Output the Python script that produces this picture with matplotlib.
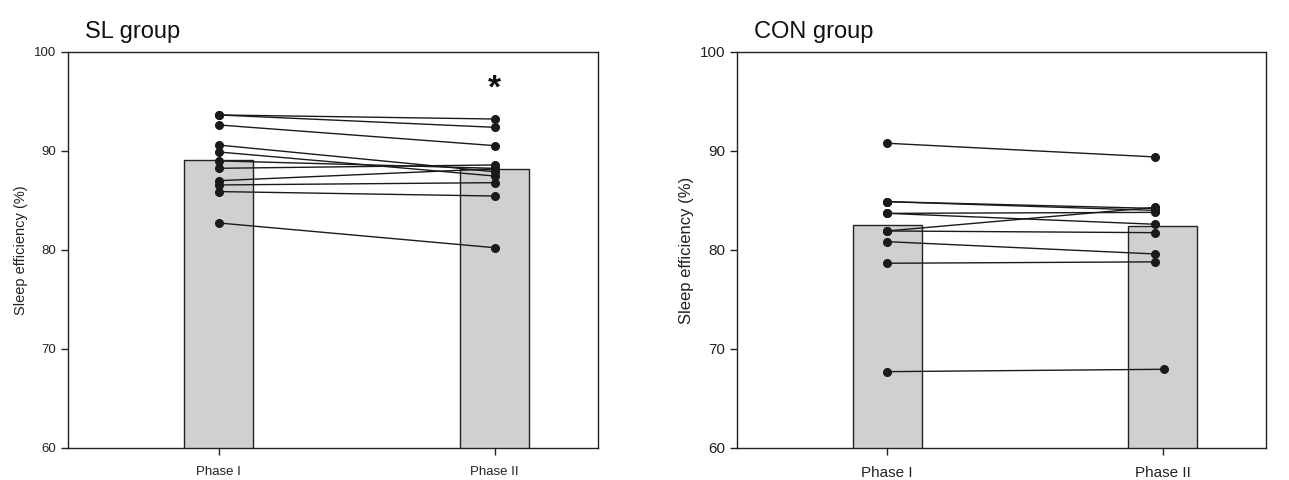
import matplotlib
matplotlib.use("Agg")
import matplotlib.pyplot as plt
import numpy as np

plt.rcParams['font.family'] = ['Liberation Sans', 'DejaVu Sans']

phases = ["Phase I", "Phase II"]

# SL group
sl_phase1 = [93.64, 93.64, 92.63, 90.6, 89.9, 89.0, 88.25, 87.0, 86.57, 85.9, 82.73]
sl_phase2 = [93.23, 92.39, 90.54, 87.9, 87.47, 88.25, 88.59, 88.2, 86.8, 85.45, 80.23]
sl_bars = [89.1, 88.2]

# CON group
con_phase1 = [90.78, 84.88, 84.88, 83.7, 83.7, 81.92, 81.92, 80.84, 78.66, 67.71]
con_phase2 = [89.4, 84.2, 84.0, 83.8, 82.6, 84.3, 81.75, 79.6, 78.8, 67.95]
con_bars = [82.5, 82.4]
con_phase2_xshift = [-0.03] * 9 + [0.005]

yticks = [60, 70, 80, 90, 100]

fig = plt.figure(figsize=(12.89, 4.8), dpi=100)
ax1 = fig.add_axes([0.0528, 0.0667, 0.4112, 0.825])
ax2 = fig.add_axes([0.5718, 0.0667, 0.4104, 0.825])

bar_color = "#d0d0d0"
xpos = np.array([1, 2])


def draw(ax, p1, p2, bars, title, fs_tick, fs_lab, shift2=None):
    ax.bar(xpos, bars, width=0.25, bottom=0, color=bar_color,
           edgecolor="#222222", linewidth=1.0, zorder=1)
    if shift2 is None:
        shift2 = [0] * len(p2)
    for a, b, s in zip(p1, p2, shift2):
        ax.plot([1, 2 + s], [a, b], color="#1a1a1a", lw=1.0,
                marker="o", ms=5.5, mfc="#1a1a1a", mec="#1a1a1a", zorder=3)
    ax.set_ylim(60, 100)
    ax.set_xlim(0.455, 2.374)
    ax.set_yticks(yticks)
    ax.set_xticks(xpos)
    ax.set_xticklabels(phases)
    ax.tick_params(axis='y', labelsize=fs_tick, direction='out', length=5, width=1, colors="#222222")
    ax.tick_params(axis='x', labelsize=fs_lab, direction='out', length=5, width=1, colors="#222222", pad=8)
    ax.set_ylabel("Sleep efficiency (%)", fontsize=fs_lab + 1, color="#222222")
    for sp in ax.spines.values():
        sp.set_linewidth(1.0)
        sp.set_color("#222222")
    ax.text(0.032, 1.022, title, transform=ax.transAxes, fontsize=17,
            ha='left', va='bottom', color="#111111")


draw(ax1, sl_phase1, sl_phase2, sl_bars, "SL group", 9.5, 9.5)
draw(ax2, con_phase1, con_phase2, con_bars, "CON group", 11, 11, con_phase2_xshift)

ax1.text(2, 96.3, "*", ha='center', va='center', fontsize=24, fontweight='bold', color="#111111")

fig.savefig("out.png", dpi=100)
